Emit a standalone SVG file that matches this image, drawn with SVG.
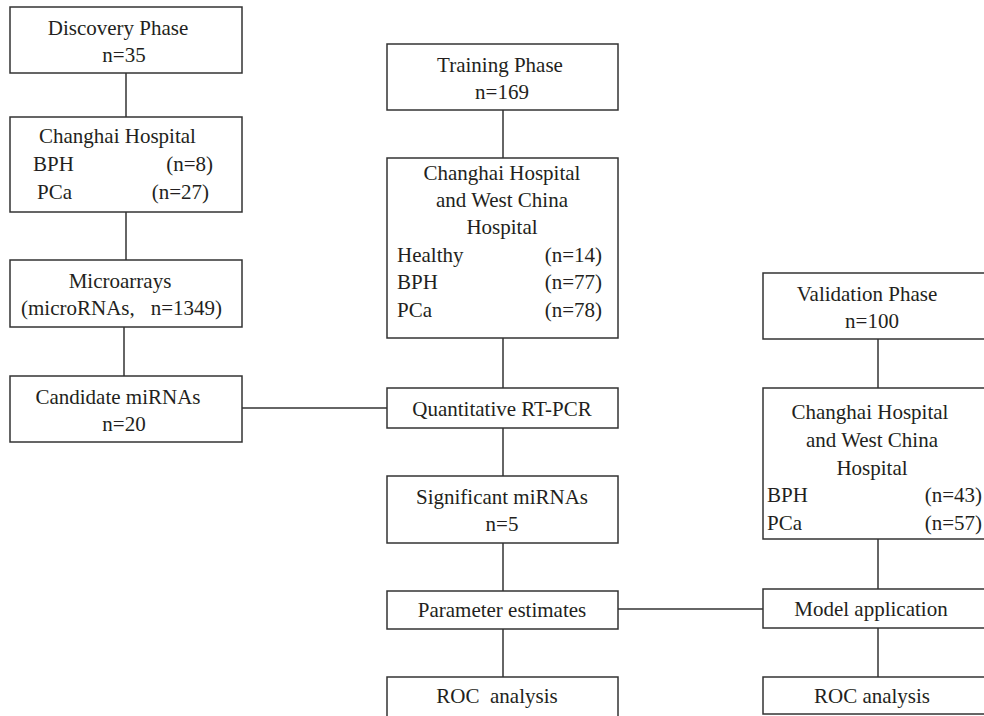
<svg xmlns="http://www.w3.org/2000/svg" width="984" height="716" viewBox="0 0 984 716">
<style>
.box{fill:#fff;stroke:#333;stroke-width:1.5}
.ln{fill:none;stroke:#333;stroke-width:1.5}
text{font-family:"Liberation Serif","Times New Roman",serif;font-size:21px;fill:#231f20}
.c{text-anchor:middle}
.e{text-anchor:end}
</style>
<rect width="984" height="716" fill="#fff"/>
<g id="connectors">
<line class="ln" x1="126" y1="73" x2="126" y2="117"/>
<line class="ln" x1="126" y1="212" x2="126" y2="260"/>
<line class="ln" x1="124" y1="327" x2="124" y2="376"/>
<line class="ln" x1="242" y1="408" x2="387" y2="408"/>
<line class="ln" x1="503" y1="110" x2="503" y2="158"/>
<line class="ln" x1="503" y1="338" x2="503" y2="388"/>
<line class="ln" x1="503" y1="428" x2="503" y2="476"/>
<line class="ln" x1="503" y1="543" x2="503" y2="591"/>
<line class="ln" x1="503" y1="629" x2="503" y2="677"/>
<line class="ln" x1="618" y1="609" x2="763" y2="609"/>
<line class="ln" x1="878" y1="339" x2="878" y2="388"/>
<line class="ln" x1="878" y1="539" x2="878" y2="589"/>
<line class="ln" x1="878" y1="628" x2="878" y2="677"/>
</g>
<g id="discovery">
<rect class="box" x="10" y="7" width="232" height="66"/>
<text class="c" x="118" y="35">Discovery Phase</text>
<text class="c" x="124" y="62">n=35</text>
</g>
<g id="changhai-discovery">
<rect class="box" x="10" y="117" width="232" height="95"/>
<text x="39" y="143">Changhai Hospital</text>
<text x="33" y="171">BPH</text>
<text class="e" x="213" y="171">(n=8)</text>
<text x="37" y="199">PCa</text>
<text class="e" x="209" y="199">(n=27)</text>
</g>
<g id="microarrays">
<rect class="box" x="10" y="260" width="232" height="67"/>
<text class="c" x="120" y="288">Microarrays</text>
<text x="21" y="315">(microRNAs,</text>
<text class="e" x="222" y="315">n=1349)</text>
</g>
<g id="candidate">
<rect class="box" x="10" y="376" width="232" height="66"/>
<text class="c" x="118" y="404">Candidate miRNAs</text>
<text class="c" x="124" y="431">n=20</text>
</g>
<g id="training">
<rect class="box" x="387" y="44" width="231" height="66"/>
<text class="c" x="500" y="72">Training Phase</text>
<text class="c" x="502" y="99">n=169</text>
</g>
<g id="changhai-training">
<rect class="box" x="387" y="158" width="231" height="180"/>
<text class="c" x="502" y="180">Changhai Hospital</text>
<text class="c" x="502" y="207">and West China</text>
<text class="c" x="502" y="234">Hospital</text>
<text x="397" y="262">Healthy</text>
<text class="e" x="602" y="262">(n=14)</text>
<text x="397" y="289">BPH</text>
<text class="e" x="602" y="289">(n=77)</text>
<text x="397" y="317">PCa</text>
<text class="e" x="602" y="317">(n=78)</text>
</g>
<g id="qrtpcr">
<rect class="box" x="387" y="388" width="231" height="40"/>
<text class="c" x="502" y="416">Quantitative RT-PCR</text>
</g>
<g id="significant">
<rect class="box" x="387" y="476" width="231" height="67"/>
<text class="c" x="502" y="504">Significant miRNAs</text>
<text class="c" x="502" y="531">n=5</text>
</g>
<g id="parameter">
<rect class="box" x="387" y="591" width="231" height="38"/>
<text class="c" x="502" y="617">Parameter estimates</text>
</g>
<g id="roc-training">
<rect class="box" x="387" y="677" width="231" height="50"/>
<text class="c" x="497" y="703" xml:space="preserve">ROC  analysis</text>
</g>
<g id="validation">
<rect class="box" x="763" y="273" width="231" height="66"/>
<text class="c" x="867" y="301">Validation Phase</text>
<text class="c" x="872" y="328">n=100</text>
</g>
<g id="changhai-validation">
<rect class="box" x="763" y="388" width="231" height="151"/>
<text class="c" x="870" y="419">Changhai Hospital</text>
<text class="c" x="872" y="447">and West China</text>
<text class="c" x="872" y="475">Hospital</text>
<text x="767" y="502">BPH</text>
<text class="e" x="982" y="502">(n=43)</text>
<text x="767" y="530">PCa</text>
<text class="e" x="982" y="530">(n=57)</text>
</g>
<g id="model">
<rect class="box" x="763" y="589" width="231" height="39"/>
<text class="c" x="871" y="616">Model application</text>
</g>
<g id="roc-validation">
<rect class="box" x="763" y="677" width="231" height="37"/>
<text class="c" x="872" y="703">ROC analysis</text>
</g>
</svg>
